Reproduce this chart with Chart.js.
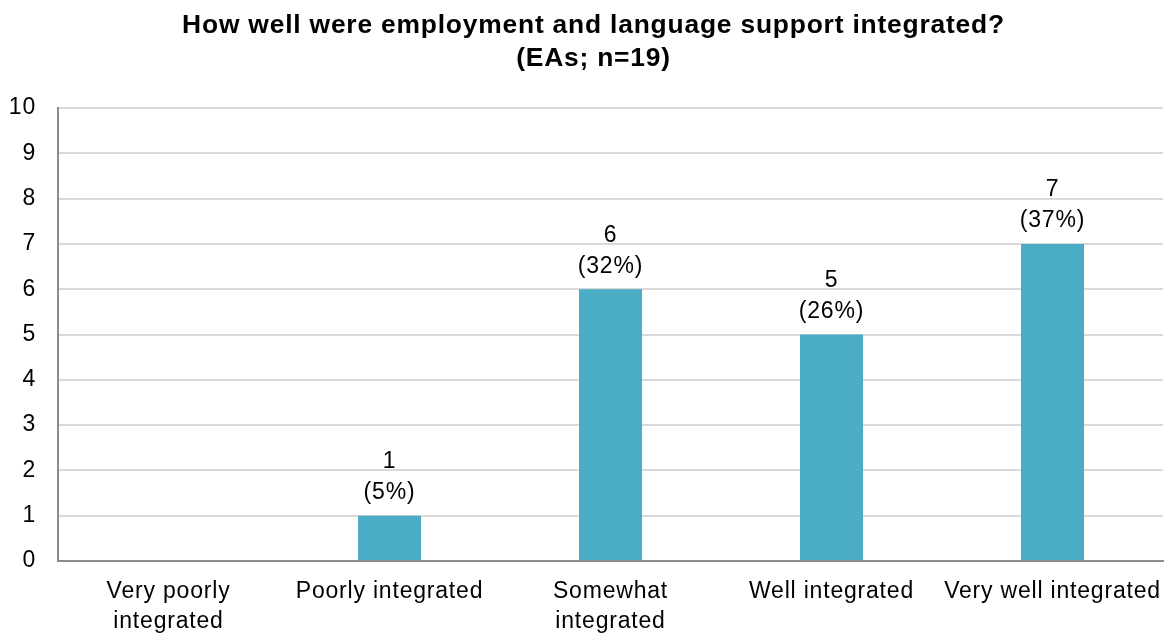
<!DOCTYPE html>
<html>
<head>
<meta charset="utf-8">
<script src="https://cdn.jsdelivr.net/npm/chart.js@4.4.1/dist/chart.umd.min.js"></script>
<style>
  html, body { margin: 0; padding: 0; background: #ffffff; }
  #wrap { width: 1167px; height: 633px; position: relative; }
</style>
</head>
<body>
<div id="wrap"><canvas id="chart"></canvas></div>
<script>
// Survey responses: integration of employment and language support (EAs; n=19)
const categories = [
  ['Very poorly', 'integrated'],
  'Poorly integrated',
  ['Somewhat', 'integrated'],
  'Well integrated',
  'Very well integrated'
];
const counts = [0, 1, 6, 5, 7];
const percents = [0, 5, 32, 26, 37];
const yTicks = [0, 1, 2, 3, 4, 5, 6, 7, 8, 9, 10];
const titleLines = ['How well were employment and language support integrated?', '(EAs; n=19)'];

const FONT = "'Liberation Sans', Arial, sans-serif";
const TEXT_SPACING = '0.8px';

// Slightly open letter spacing for every text run on the canvas
const textSpacing = {
  id: 'textSpacing',
  beforeUpdate(chart) { chart.ctx.letterSpacing = TEXT_SPACING; },
  beforeLayout(chart) { chart.ctx.letterSpacing = TEXT_SPACING; },
  beforeDraw(chart) { chart.ctx.letterSpacing = TEXT_SPACING; }
};

// Two-line bold heading near the top of the canvas
const heading = {
  id: 'heading',
  afterDraw(chart) {
    const ctx = chart.ctx;
    const cx = chart.width / 2 + 10;
    ctx.save();
    ctx.font = 'bold 26.4px ' + FONT;
    ctx.fillStyle = '#000000';
    ctx.textAlign = 'center';
    ctx.textBaseline = 'middle';
    titleLines.forEach((line, i) => ctx.fillText(line, cx, 26 + i * 33));
    ctx.restore();
  }
};

// Writes "n" over "(p%)" above each non-zero bar
const barLabels = {
  id: 'barLabels',
  afterDatasetsDraw(chart) {
    const ctx = chart.ctx;
    const meta = chart.getDatasetMeta(0);
    ctx.save();
    ctx.font = '23px ' + FONT;
    ctx.fillStyle = '#000000';
    ctx.textAlign = 'center';
    ctx.textBaseline = 'middle';
    meta.data.forEach((bar, i) => {
      if (!counts[i]) return;
      ctx.fillText('(' + percents[i] + '%)', bar.x, bar.y - 23);
      ctx.fillText(String(counts[i]), bar.x, bar.y - 54);
    });
    ctx.restore();
  }
};

new Chart(document.getElementById('chart'), {
  type: 'bar',
  data: {
    labels: categories,
    datasets: [{
      data: counts,
      backgroundColor: '#4BACC6',
      borderWidth: 0,
      barPercentage: 0.57,
      categoryPercentage: 0.5
    }]
  },
  options: {
    responsive: true,
    maintainAspectRatio: false,
    animation: false,
    layout: { autoPadding: false, padding: { left: 0, right: 4, top: 108, bottom: 0 } },
    plugins: {
      legend: { display: false },
      tooltip: { enabled: false },
      title: { display: false }
    },
    scales: {
      x: {
        grid: { display: false, drawTicks: false },
        border: { display: true, color: '#8C8C8C', width: 2 },
        ticks: {
          color: '#000000',
          font: { family: FONT, size: 23, lineHeight: 1.3 },
          padding: 16,
          maxRotation: 0,
          autoSkip: false
        },
        afterFit(scale) {
          scale.height = 72;
          scale.paddingLeft = 0;
          scale.paddingRight = 0;
        }
      },
      y: {
        min: 0,
        max: 10,
        afterBuildTicks(scale) { scale.ticks = yTicks.map(v => ({ value: v })); },
        grid: { color: '#D9D9D9', lineWidth: 2, drawTicks: false },
        border: { display: true, color: '#8C8C8C', width: 2 },
        ticks: {
          color: '#000000',
          font: { family: FONT, size: 23 },
          padding: 22
        },
        afterFit(scale) { scale.width = 58; }
      }
    }
  },
  plugins: [textSpacing, heading, barLabels]
});
</script>
</body>
</html>
